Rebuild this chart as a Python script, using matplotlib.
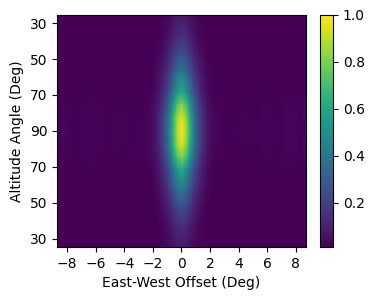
import numpy as np
import matplotlib
matplotlib.use("Agg")
import matplotlib.pyplot as plt

# East-West profile (deg offset -> relative gain)
ew_offset = [-8.7, -8.3, -7.4, -6.3, -5.3, -4.4, -3.6, -2.8, -2.2, -1.8, -1.5, -1.2,
             -0.9, -0.6, -0.3, 0.0, 0.3, 0.6, 0.9, 1.2, 1.5, 1.8, 2.2, 2.8, 3.6,
             4.4, 5.3, 6.0, 6.8, 7.6, 8.3, 8.7]
ew_gain = [0.018, 0.028, 0.016, 0.026, 0.016, 0.022, 0.016, 0.02, 0.03, 0.07, 0.14, 0.25,
           0.40, 0.65, 0.88, 1.0, 0.88, 0.65, 0.40, 0.25, 0.14, 0.07, 0.03, 0.02, 0.016,
           0.022, 0.016, 0.026, 0.016, 0.03, 0.02, 0.03]

# North-South profile (zenith offset, deg -> relative gain)
ns_offset = [-64.5, -52, -42, -32, -21, -15, -8, 0, 8, 15, 21, 32, 42, 52, 64.5]
ns_gain = [0.08, 0.15, 0.26, 0.42, 0.62, 0.80, 0.95, 1.0, 0.95, 0.80, 0.62, 0.42, 0.26, 0.15, 0.08]

y_ticks = [-60, -40, -20, 0, 20, 40, 60]
y_tick_labels = ["30", "50", "70", "90", "70", "50", "30"]
x_ticks = [-8, -6, -4, -2, 0, 2, 4, 6, 8]

gain_floor = 0.012

Z = np.outer(np.array(ns_gain), np.array(ew_gain))

fig = plt.figure(figsize=(3.73, 2.99), dpi=100)
ax = fig.add_axes([0.153, 0.174, 0.667, 0.776])
cax = fig.add_axes([0.858, 0.174, 0.035, 0.776])

mesh = ax.pcolormesh(ew_offset, ns_offset, Z, shading="gouraud", cmap="viridis",
                     vmin=gain_floor, vmax=1.0, rasterized=True)
ax.set_xlim(ew_offset[0], ew_offset[-1])
ax.set_ylim(ns_offset[-1], ns_offset[0])
ax.set_xticks(x_ticks)
ax.set_yticks(y_ticks)
ax.set_yticklabels(y_tick_labels)
ax.set_xlabel("East-West Offset (Deg)")
ax.set_ylabel("Altitude Angle (Deg)")

cb = fig.colorbar(mesh, cax=cax)
cb.set_ticks([0.2, 0.4, 0.6, 0.8, 1.0])

fig.savefig("out.png", dpi=100)
